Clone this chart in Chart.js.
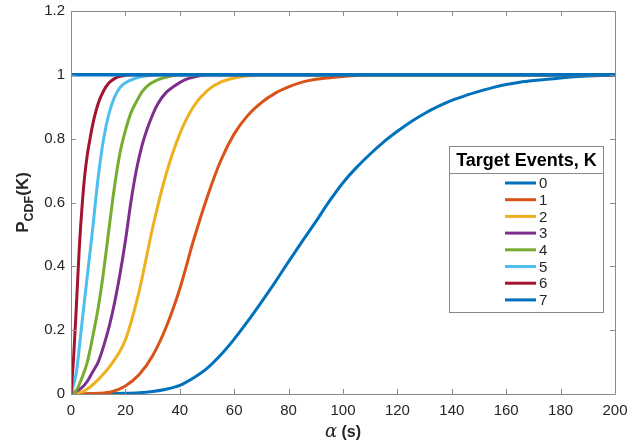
<!DOCTYPE html>
<html>
<head>
<meta charset="utf-8">
<script src="https://cdn.jsdelivr.net/npm/chart.js@4"></script>
<style>
  html, body { margin: 0; padding: 0; background: #fff; }
  #wrap { width: 642px; height: 446px; }
</style>
</head>
<body>
<div id="wrap"><canvas id="cdfChart" width="642" height="446"></canvas></div>
<script>
// K labels and MATLAB default colour order
const kLabels = ['0', '1', '2', '3', '4', '5', '6', '7'];
const kColors = ['#0072BD', '#D95319', '#EDB120', '#7E2F8E', '#77AC30', '#4DBEEE', '#A2142F', '#0072BD'];

// alpha (s) -> P_CDF
const k0X = [0, 10, 20, 25, 30, 35, 40, 45, 50, 55, 60, 65, 70, 75, 80, 85, 90, 95, 100, 105, 110, 115, 120, 125, 130, 135, 140, 145, 150, 155, 160, 165, 170, 175, 180, 185, 190, 195, 200];
const k0Y = [0, 0, 0.002, 0.004, 0.008, 0.015, 0.027, 0.05, 0.08, 0.122, 0.172, 0.228, 0.288, 0.35, 0.415, 0.478, 0.54, 0.604, 0.662, 0.71, 0.752, 0.79, 0.823, 0.853, 0.879, 0.901, 0.92, 0.935, 0.948, 0.96, 0.97, 0.977, 0.982, 0.986, 0.99, 0.994, 0.996, 0.998, 1];

const k1X = [0, 10, 15, 20, 25, 30, 35, 40, 45, 50, 55, 60, 65, 70, 75, 80, 85, 90, 95, 100, 110, 200];
const k1Y = [0, 0.002, 0.007, 0.025, 0.06, 0.12, 0.21, 0.33, 0.48, 0.615, 0.73, 0.815, 0.873, 0.913, 0.942, 0.962, 0.977, 0.986, 0.991, 0.995, 1, 1];

const k2X = [0, 5, 10, 15, 20, 25, 30, 35, 40, 45, 50, 55, 60, 65, 70, 200];
const k2Y = [0, 0.01, 0.045, 0.095, 0.17, 0.32, 0.52, 0.69, 0.815, 0.9, 0.95, 0.977, 0.99, 0.997, 1, 1];

const k3X = [0, 4, 6, 8, 10, 12, 14, 16, 18, 20, 22, 24, 26, 28, 30, 32, 35, 38, 42, 46, 50, 200];
const k3Y = [0, 0.02, 0.04, 0.07, 0.1, 0.15, 0.21, 0.285, 0.375, 0.48, 0.6, 0.7, 0.775, 0.83, 0.875, 0.91, 0.945, 0.965, 0.985, 0.995, 1, 1];

const k4X = [0, 2, 4, 6, 8, 10, 12, 14, 16, 18, 20, 22, 24, 26, 28, 32, 36, 40, 200];
const k4Y = [0, 0.012, 0.05, 0.1, 0.18, 0.27, 0.385, 0.52, 0.65, 0.755, 0.825, 0.88, 0.915, 0.945, 0.965, 0.985, 0.995, 1, 1];

const k5X = [0, 2, 4, 6, 8, 10, 12, 14, 16, 18, 20, 24, 28, 32, 200];
const k5Y = [0, 0.07, 0.22, 0.37, 0.52, 0.68, 0.8, 0.88, 0.93, 0.96, 0.975, 0.99, 0.997, 1, 1];

const k6X = [0, 1, 2, 3, 4, 5, 6, 7, 8, 10, 12, 14, 16, 18, 20, 24, 200];
const k6Y = [0, 0.12, 0.28, 0.45, 0.58, 0.68, 0.75, 0.8, 0.845, 0.91, 0.95, 0.975, 0.988, 0.995, 0.999, 1, 1];

const k7X = [0, 200];
const k7Y = [1, 1];

const seriesX = [k0X, k1X, k2X, k3X, k4X, k5X, k6X, k7X];
const seriesY = [k0Y, k1Y, k2Y, k3Y, k4Y, k5Y, k6Y, k7Y];

const xTicks = [0, 20, 40, 60, 80, 100, 120, 140, 160, 180, 200];
const yTicks = [0, 0.2, 0.4, 0.6, 0.8, 1, 1.2];

const axisGray = '#8a8a8a';
const textGray = '#262626';
const sans = '"Liberation Sans", Arial, Helvetica, sans-serif';

// box, inward ticks on all four sides, axis titles
const matlabAxes = {
  id: 'matlabAxes',
  afterDatasetsDraw(chart) {
    const { ctx, chartArea: a, scales: { x, y } } = chart;
    ctx.save();
    ctx.strokeStyle = axisGray;
    ctx.lineWidth = 1;
    ctx.beginPath();
    ctx.rect(Math.round(a.left) + 0.5, Math.round(a.top) + 0.5, Math.round(a.width), Math.round(a.height));
    xTicks.forEach(v => {
      const px = Math.round(x.getPixelForValue(v)) + 0.5;
      ctx.moveTo(px, a.bottom); ctx.lineTo(px, a.bottom - 5);
      ctx.moveTo(px, a.top); ctx.lineTo(px, a.top + 5);
    });
    yTicks.forEach(v => {
      const py = Math.round(y.getPixelForValue(v)) + 0.5;
      ctx.moveTo(a.left, py); ctx.lineTo(a.left + 5, py);
      ctx.moveTo(a.right, py); ctx.lineTo(a.right - 5, py);
    });
    ctx.stroke();

    // x title: alpha (s)
    ctx.fillStyle = textGray;
    ctx.textBaseline = 'alphabetic';
    ctx.font = 'italic 18px "DejaVu Serif", "Liberation Serif", serif';
    const aW = ctx.measureText('\u03b1').width;
    ctx.font = 'bold 16px ' + sans;
    const sW = ctx.measureText(' (s)').width;
    const cx = (a.left + a.right) / 2;
    let sx = cx - (aW + sW) / 2;
    ctx.font = 'italic 18px "DejaVu Serif", "Liberation Serif", serif';
    ctx.textAlign = 'left';
    ctx.fillText('\u03b1', sx, 437);
    ctx.font = 'bold 16px ' + sans;
    ctx.fillText(' (s)', sx + aW, 437);

    // y title: P_CDF(K)
    ctx.translate(28, (a.top + a.bottom) / 2);
    ctx.rotate(-Math.PI / 2);
    ctx.font = 'bold 17px ' + sans;
    const pW = ctx.measureText('P').width;
    const kW = ctx.measureText('(K)').width;
    ctx.font = 'bold 12.5px ' + sans;
    const cW = ctx.measureText('CDF').width;
    let tx = -(pW + cW + kW) / 2;
    ctx.font = 'bold 17px ' + sans;
    ctx.fillText('P', tx, 0);
    ctx.font = 'bold 12.5px ' + sans;
    ctx.fillText('CDF', tx + pW, 4.5);
    ctx.font = 'bold 17px ' + sans;
    ctx.fillText('(K)', tx + pW + cW, 0);
    ctx.restore();
  }
};

// legend box with title, drawn inside the axes
const boxLegend = {
  id: 'boxLegend',
  afterDraw(chart) {
    const { ctx } = chart;
    const bx = 449.5, by = 146.5, bw = 154, bh = 166;
    ctx.save();
    ctx.fillStyle = '#fff';
    ctx.fillRect(bx, by, bw, bh);
    ctx.strokeStyle = axisGray;
    ctx.lineWidth = 1;
    ctx.strokeRect(bx, by, bw, bh);
    ctx.beginPath();
    ctx.moveTo(bx, 173.5); ctx.lineTo(bx + bw, 173.5);
    ctx.stroke();

    ctx.fillStyle = '#000';
    ctx.font = 'bold 18px ' + sans;
    ctx.textAlign = 'center';
    ctx.textBaseline = 'middle';
    ctx.fillText('Target Events, K', bx + bw / 2, 161);

    ctx.font = '15px ' + sans;
    ctx.textAlign = 'left';
    chart.data.datasets.forEach((ds, i) => {
      const ly = 183 + i * 16.7;
      ctx.strokeStyle = ds.borderColor;
      ctx.lineWidth = 3;
      ctx.beginPath();
      ctx.moveTo(505, ly); ctx.lineTo(536, ly);
      ctx.stroke();
      ctx.fillStyle = textGray;
      ctx.fillText(ds.label, 539, ly + 1);
    });
    ctx.restore();
  }
};

const datasets = kLabels.map((k, i) => ({
  label: k,
  data: seriesX[i].map((xv, j) => ({ x: xv, y: seriesY[i][j] })),
  borderColor: kColors[i],
  backgroundColor: kColors[i],
  borderWidth: i === 7 ? 3.5 : 3,
  pointRadius: 0,
  fill: false,
  cubicInterpolationMode: 'monotone',
  order: 7 - i
}));

new Chart(document.getElementById('cdfChart').getContext('2d'), {
  type: 'line',
  data: { datasets },
  options: {
    responsive: false,
    animation: false,
    events: [],
    layout: { autoPadding: false, padding: { top: 11, right: 27, left: 0, bottom: 0 } },
    plugins: { legend: { display: false }, tooltip: { enabled: false } },
    scales: {
      x: {
        type: 'linear',
        min: 0, max: 200,
        afterBuildTicks: s => { s.ticks = xTicks.map(v => ({ value: v })); },
        afterFit: s => { s.height = 52; s.paddingLeft = 0; s.paddingRight = 0; },
        grid: { display: false, drawTicks: false },
        border: { display: false },
        ticks: { color: textGray, font: { family: sans, size: 15 }, padding: 8, maxRotation: 0 }
      },
      y: {
        type: 'linear',
        min: 0, max: 1.2,
        afterBuildTicks: s => { s.ticks = yTicks.map(v => ({ value: v })); },
        afterFit: s => { s.width = 71; s.paddingTop = 0; s.paddingBottom = 0; },
        grid: { display: false, drawTicks: false },
        border: { display: false },
        ticks: { color: textGray, font: { family: sans, size: 15 }, padding: 6,
                 callback: v => String(+v.toFixed(1)) }
      }
    }
  },
  plugins: [matlabAxes, boxLegend]
});
</script>
</body>
</html>
